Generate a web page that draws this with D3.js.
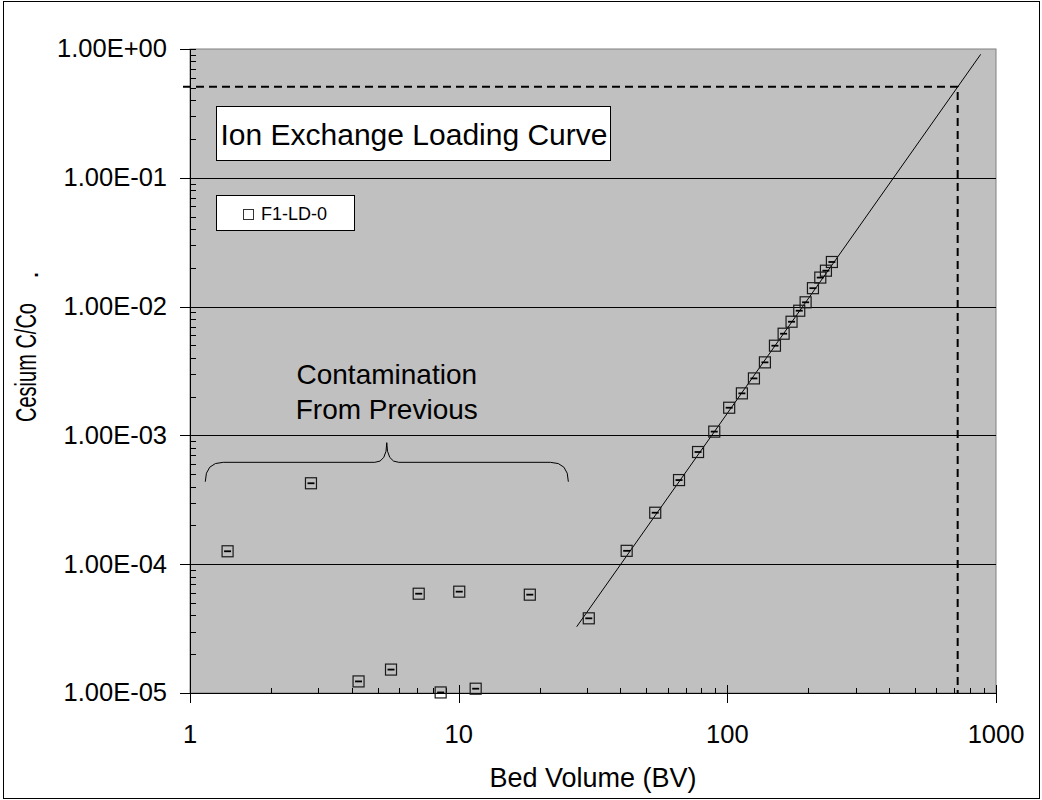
<!DOCTYPE html>
<html>
<head>
<meta charset="utf-8">
<script src="https://cdn.jsdelivr.net/npm/d3@7/dist/d3.min.js"></script>
<style>
  html, body { margin: 0; padding: 0; background: #fff; }
  svg { display: block; font-family: "Liberation Sans", Arial, sans-serif; }
</style>
</head>
<body>
<svg id="chart" width="1042" height="800"></svg>
<script>
// Measured bed volumes and cesium C/Co for run F1-LD-0
const bedVolume = [1.38, 2.82, 4.24, 5.6, 7.1, 8.57, 10.05, 11.57, 18.4, 30.5,
  42.2, 53.9, 66.1, 77.8, 89.4, 101.6, 113.3, 125.6, 138, 150.4,
  162, 173.4, 185.2, 195.6, 208.3, 221.8, 232.8, 245];
const cesiumCC0 = [1.26e-4, 4.25e-4, 1.23e-5, 1.52e-5, 5.9e-5, 1.01e-5, 6.12e-5, 1.08e-5, 5.8e-5, 3.8e-5,
  1.27e-4, 2.51e-4, 4.5e-4, 7.43e-4, 1.07e-3, 1.64e-3, 2.12e-3, 2.77e-3, 3.69e-3, 4.97e-3,
  6.16e-3, 7.63e-3, 9.29e-3, 1.08e-2, 1.39e-2, 1.68e-2, 1.90e-2, 2.22e-2];

// Power-law trend line end points (straight on log-log axes)
const fitBV = [27.5, 877];
const fitCC0 = [3.27e-5, 0.909];

// 50% breakthrough
const breakthroughBV = 720;
const breakthroughCC0 = 0.51;

// Brace marking early contamination
const braceBV = [1.14, 5.4, 25.6];
const braceCC0 = [4.37e-4, 6.18e-4, 8.78e-4];

const xTicks = [1, 10, 100, 1000];
const xTickLabels = ["1", "10", "100", "1000"];
const yTicks = [1e-5, 1e-4, 1e-3, 1e-2, 1e-1, 1];
const yTickLabels = ["1.00E-05", "1.00E-04", "1.00E-03", "1.00E-02", "1.00E-01", "1.00E+00"];
const seriesName = "F1-LD-0";

const svg = d3.select("#chart");
const W = 1042, H = 800;
const plot = { left: 190, right: 996, top: 49, bottom: 693 };

const x = d3.scaleLog().domain([1, 1000]).range([plot.left, plot.right]);
const y = d3.scaleLog().domain([1e-5, 1]).range([plot.bottom, plot.top]);

// outer frame
svg.append("rect").attr("x", 0).attr("y", 0).attr("width", W).attr("height", H).attr("fill", "#fff");
svg.append("rect").attr("x", 3.5).attr("y", 1.5).attr("width", W - 6).attr("height", H - 3)
  .attr("fill", "none").attr("stroke", "#000").attr("stroke-width", 1);

// plot area
svg.append("rect")
  .attr("x", plot.left).attr("y", plot.top)
  .attr("width", plot.right - plot.left).attr("height", plot.bottom - plot.top)
  .attr("fill", "#c0c0c0").attr("stroke", "#808080").attr("stroke-width", 1);

// horizontal gridlines at each decade
svg.append("g").selectAll("line")
  .data(yTicks.filter(d => d > 1e-5 && d < 1))
  .join("line")
  .attr("x1", plot.left).attr("x2", plot.right)
  .attr("y1", d => Math.round(y(d)) + 0.5).attr("y2", d => Math.round(y(d)) + 0.5)
  .attr("stroke", "#000").attr("stroke-width", 1);

// minor tick values
function minors(lo, hi) {
  const out = [];
  for (let p = lo; p < hi; p++) for (let k = 2; k <= 9; k++) out.push(k * Math.pow(10, p));
  return out;
}

// Y axis
const yAxis = svg.append("g");
yAxis.append("line").attr("x1", plot.left + 0.5).attr("x2", plot.left + 0.5)
  .attr("y1", plot.top).attr("y2", plot.bottom).attr("stroke", "#000");
yAxis.selectAll("line.minor").data(minors(-5, 0)).join("line").attr("class", "minor")
  .attr("x1", plot.left).attr("x2", plot.left + 6)
  .attr("y1", d => Math.round(y(d)) + 0.5).attr("y2", d => Math.round(y(d)) + 0.5)
  .attr("stroke", "#000");
yAxis.selectAll("line.major").data(yTicks).join("line").attr("class", "major")
  .attr("x1", plot.left - 10).attr("x2", plot.left + 6)
  .attr("y1", d => Math.round(y(d)) + 0.5).attr("y2", d => Math.round(y(d)) + 0.5)
  .attr("stroke", "#000");
yAxis.selectAll("text").data(yTicks).join("text")
  .attr("x", plot.left - 23).attr("y", d => y(d)).attr("dy", "0.33em")
  .attr("text-anchor", "end").attr("font-size", 25.5).attr("fill", "#000")
  .text((d, i) => yTickLabels[i]);

// X axis
const xAxis = svg.append("g");
xAxis.append("line").attr("x1", plot.left).attr("x2", plot.right)
  .attr("y1", plot.bottom + 0.5).attr("y2", plot.bottom + 0.5).attr("stroke", "#000");
xAxis.selectAll("line.minor").data(minors(0, 3)).join("line").attr("class", "minor")
  .attr("x1", d => Math.round(x(d)) + 0.5).attr("x2", d => Math.round(x(d)) + 0.5)
  .attr("y1", plot.bottom - 5).attr("y2", plot.bottom)
  .attr("stroke", "#000");
xAxis.selectAll("line.major").data(xTicks).join("line").attr("class", "major")
  .attr("x1", d => Math.round(x(d)) + 0.5).attr("x2", d => Math.round(x(d)) + 0.5)
  .attr("y1", plot.bottom - 8).attr("y2", plot.bottom + 10)
  .attr("stroke", "#000");
xAxis.selectAll("text").data(xTicks).join("text")
  .attr("x", d => x(d)).attr("y", plot.bottom + 50)
  .attr("text-anchor", "middle").attr("font-size", 25.5).attr("fill", "#000")
  .text((d, i) => xTickLabels[i]);

// axis titles
svg.append("text").attr("x", (plot.left + plot.right) / 2).attr("y", 787)
  .attr("text-anchor", "middle").attr("font-size", 27).text("Bed Volume (BV)");
svg.append("text").attr("transform", "translate(36,422) rotate(-90)")
  .attr("font-size", 29).attr("textLength", 119).attr("lengthAdjust", "spacingAndGlyphs")
  .text("Cesium C/Co");
svg.append("text").attr("transform", "translate(38,279) rotate(-90)")
  .attr("font-size", 29).text(".");

// 50% breakthrough guide lines
svg.append("path")
  .attr("d", `M${plot.left - 7},${y(breakthroughCC0)}H${x(breakthroughBV)}V${plot.bottom}`)
  .attr("fill", "none").attr("stroke", "#000").attr("stroke-width", 2)
  .attr("stroke-dasharray", "8,5");

// trend line
svg.append("line")
  .attr("x1", x(fitBV[0])).attr("y1", y(fitCC0[0]))
  .attr("x2", x(fitBV[1])).attr("y2", y(fitCC0[1]))
  .attr("stroke", "#000").attr("stroke-width", 1);

// data markers
const pts = bedVolume.map((v, i) => ({ bv: v, c: cesiumCC0[i] }));
const mk = svg.append("g").selectAll("g").data(pts).join("g")
  .attr("transform", d => `translate(${x(d.bv)},${y(d.c)})`);
mk.append("rect").attr("x", -5.5).attr("y", -5.5).attr("width", 11).attr("height", 11)
  .attr("fill", "none").attr("stroke", "#1a1a1a").attr("stroke-width", 1.2);
mk.append("line").attr("x1", -3.5).attr("x2", 3.5).attr("y1", 0).attr("y2", 0)
  .attr("stroke", "#000").attr("stroke-width", 1.8);

// brace over the contamination points
{
  const xl = x(braceBV[0]), xm = x(braceBV[1]), xr = x(braceBV[2]);
  const ye = y(braceCC0[0]), yb = y(braceCC0[1]), yt = y(braceCC0[2]);
  const r = 18, rm = 12;
  const d = `M${xl},${ye} Q${xl},${yb} ${xl + r},${yb} H${xm - rm} Q${xm},${yb} ${xm},${yt}` +
            ` Q${xm},${yb} ${xm + rm},${yb} H${xr - r} Q${xr},${yb} ${xr},${ye}`;
  svg.append("path").attr("d", d).attr("fill", "none").attr("stroke", "#000").attr("stroke-width", 1);
  svg.append("text").attr("x", xm).attr("y", 384).attr("text-anchor", "middle")
    .attr("font-size", 28).text("Contamination");
  svg.append("text").attr("x", xm).attr("y", 419).attr("text-anchor", "middle")
    .attr("font-size", 28).text("From Previous");
}

// chart title box
svg.append("rect").attr("x", 216.5).attr("y", 106.5).attr("width", 394).attr("height", 54)
  .attr("fill", "#fff").attr("stroke", "#000").attr("stroke-width", 1);
svg.append("text").attr("x", 414).attr("y", 145).attr("text-anchor", "middle")
  .attr("font-size", 30).text("Ion Exchange Loading Curve");

// legend
svg.append("rect").attr("x", 216.5).attr("y", 195.5).attr("width", 138).attr("height", 35)
  .attr("fill", "#fff").attr("stroke", "#000").attr("stroke-width", 1);
svg.append("rect").attr("x", 243.5).attr("y", 209.5).attr("width", 10).attr("height", 10)
  .attr("fill", "none").attr("stroke", "#333").attr("stroke-width", 1);
svg.append("text").attr("x", 261).attr("y", 219.5).attr("font-size", 18).text(seriesName);
</script>
</body>
</html>
